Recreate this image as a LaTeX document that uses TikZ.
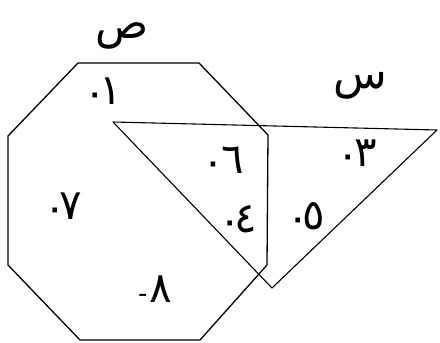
\documentclass[tikz,border=0pt]{standalone}
\usepackage{fontspec}
\newfontfamily\arabicfont[Script=Arabic]{DejaVu Sans}
\newfontfamily\dotfont{DejaVu Sans}
\TeXXeTstate=1
\newcommand{\pdot}{{\dotfont\bfseries\fontsize{26}{28}\selectfont ·}}
\newcommand{\dig}[1]{{\arabicfont\fontsize{42}{44}\selectfont #1}}
\begin{document}
\begin{tikzpicture}[x=1pt,y=-1pt,
  edge/.style={line width=1.3pt,line join=round},
  lab/.style={inner sep=0pt},
  setname/.style={font=\arabicfont\fontsize{44}{46}\selectfont,inner sep=0pt}]
\useasboundingbox (0,0) rectangle (440,343);
% octagon vertices
\coordinate (o1) at (78,63);
\coordinate (o2) at (199,63);
\coordinate (o3) at (268,135);
\coordinate (o4) at (267,265);
\coordinate (o5) at (200,340);
\coordinate (o6) at (80,340);
\coordinate (o7) at (8,265);
\coordinate (o8) at (8,136);
\draw[edge] (o1) -- (o2) -- (o3) -- (o4) -- (o5) -- (o6) -- (o7) -- (o8) -- cycle;
% triangle vertices
\coordinate (t1) at (113,122);
\coordinate (t2) at (437,130);
\coordinate (t3) at (272,288);
\draw[edge,line width=1.1pt] (t1) -- (t2) -- (t3) -- cycle;
% set names
\node[setname] (sad) at (122,36) {\beginR ص\endR};
\node[setname] (sin) at (360,86) {\beginR س\endR};
% points
\node[lab] (p1) at (106,91) {\pdot\dig{١}};
\node[lab] (p3) at (360,153) {\pdot\,\dig{٣}};
\node[lab] (p6) at (226,160) {\pdot\,\,\dig{٦}};
\node[lab] (p4) at (241,219) {\pdot\dig{٤}};
\node[lab] (p5) at (309,216) {\pdot\dig{٥}};
\node[lab] (p7) at (66,206) {\pdot\dig{٧}};
\node[lab] (p8) at (155,289) {{\dotfont\fontsize{26}{28}\selectfont -}\,\dig{٨}};
\end{tikzpicture}
\end{document}
